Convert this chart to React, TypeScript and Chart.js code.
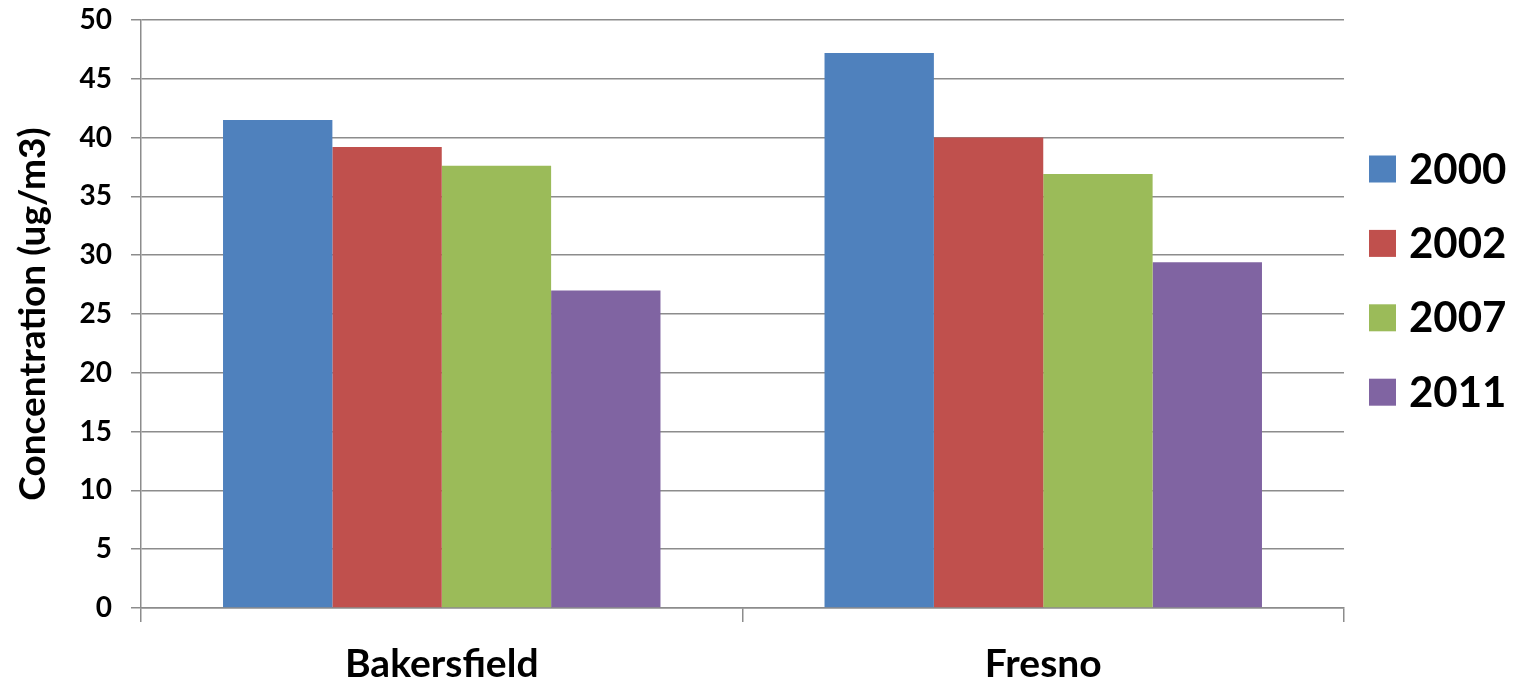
import React, { useEffect, useRef } from "react";
import { Chart, registerables } from "chart.js";

Chart.register(...registerables);

const categories = ["Bakersfield", "Fresno"];
const seriesLabels = ["2000", "2002", "2007", "2011"];
const values2000 = [41.5, 47.2];
const values2002 = [39.2, 40.0];
const values2007 = [37.6, 36.9];
const values2011 = [27.0, 29.4];
const seriesColors = ["#4F81BD", "#C0504D", "#9BBB59", "#8064A2"];
const yTitle = "Concentration (ug/m3)";

const FONT = "Lato, 'Open Sans', sans-serif";
const GRID = "#8c8c8c";

const sideLegend = {
  id: "sideLegend",
  afterDraw(chart: any) {
    const { ctx, chartArea } = chart;
    const x0 = chartArea.right + 25;
    const top = 169;
    const step = 74.4;
    const box = 27;
    ctx.save();
    chart.data.datasets.forEach((ds: any, i: number) => {
      const cy = top + i * step;
      ctx.fillStyle = ds.backgroundColor;
      ctx.fillRect(x0, cy - box / 2, box, box);
      ctx.fillStyle = "#000";
      ctx.font = `bold 42px ${FONT}`;
      ctx.textBaseline = "middle";
      ctx.textAlign = "left";
      ctx.fillText(ds.label, x0 + box + 13, cy + 1);
    });
    ctx.restore();
  },
};

export default function App() {
  const ref = useRef<HTMLCanvasElement | null>(null);
  useEffect(() => {
    if (!ref.current) return;
    const data = [values2000, values2002, values2007, values2011];
    const chart = new Chart(ref.current, {
      type: "bar",
      data: {
        labels: categories,
        datasets: seriesLabels.map((l, i) => ({
          label: l,
          data: data[i],
          backgroundColor: seriesColors[i],
          borderWidth: 0,
          categoryPercentage: 4 / 5.5,
          barPercentage: 1,
        })),
      },
      options: {
        animation: false,
        responsive: true,
        maintainAspectRatio: false,
        layout: { padding: { top: 0, right: 169, left: 0, bottom: 0 } },
        plugins: { legend: { display: false }, tooltip: { enabled: false } },
        scales: {
          x: {
            offset: true,
            grid: {
              offset: true,
              drawOnChartArea: false,
              drawTicks: true,
              tickLength: 14,
              color: GRID,
              lineWidth: 1.5,
            },
            border: { color: GRID, width: 1.5 },
            ticks: {
              color: "#000",
              padding: 19,
              font: { family: FONT, size: 39, weight: "bold" },
            },
            afterFit: (s: any) => {
              s.height = 74;
            },
          },
          y: {
            min: 0,
            max: 50,
            ticks: {
              stepSize: 5,
              color: "#000",
              padding: 19,
              font: { family: FONT, size: 28, weight: "bold" },
            },
            grid: { color: GRID, lineWidth: 1.5, tickLength: 10, drawTicks: true },
            border: { color: GRID, width: 1.5 },
            title: {
              display: true,
              text: yTitle,
              color: "#000",
              padding: { top: 11, bottom: 0 },
              font: { family: FONT, size: 37, weight: "bold" },
            },
            afterFit: (s: any) => {
              s.width = 141;
              s.paddingTop = 20;
              s.paddingBottom = 0;
            },
          },
        },
      },
      plugins: [sideLegend],
    });
    return () => chart.destroy();
  }, []);
  return (
    <div style={{ position: "fixed", left: 0, top: 0, width: "1513px", height: "682px", background: "#fff" }}>
      <canvas ref={ref} />
    </div>
  );
}
